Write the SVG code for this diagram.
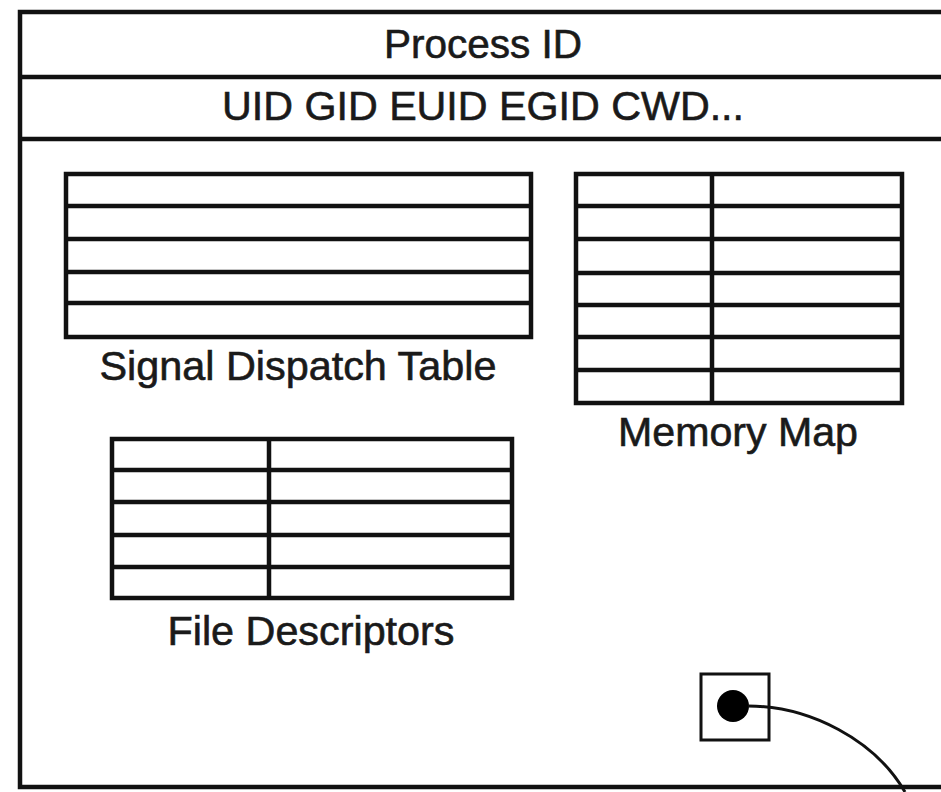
<svg xmlns="http://www.w3.org/2000/svg" width="941" height="792" viewBox="0 0 941 792">
<style>
.frame{fill:#fff;stroke:#111;stroke-width:4.5}
.grid{fill:none;stroke:#111;stroke-width:4.5}
.lbl{font-family:"Liberation Sans",Arial,sans-serif;font-size:40px;fill:#1a1a1a;stroke:#1a1a1a;stroke-width:0.6;text-anchor:middle}
.conn{fill:none;stroke:#111;stroke-width:3}
</style>
<rect width="941" height="792" fill="#fff"/>
<g id="process">
<rect class="frame" x="20" y="12" width="960" height="775"/>
<line class="grid" x1="20" y1="77" x2="941" y2="77"/>
<line class="grid" x1="20" y1="139" x2="941" y2="139"/>
<text class="lbl" x="483" y="58" textLength="198" lengthAdjust="spacingAndGlyphs">Process ID</text>
<text class="lbl" x="483" y="120" textLength="522" lengthAdjust="spacingAndGlyphs">UID GID EUID EGID CWD...</text>
</g>
<g id="signal-dispatch-table">
<rect class="grid" x="66" y="174" width="465" height="163"/>
<path class="grid" d="M66 206H531M66 239H531M66 272H531M66 303H531"/>
<text class="lbl" x="298" y="380" textLength="397" lengthAdjust="spacingAndGlyphs">Signal Dispatch Table</text>
</g>
<g id="memory-map">
<rect class="grid" x="576" y="174" width="326" height="229"/>
<path class="grid" d="M712 174V403M576 206H902M576 239H902M576 273H902M576 305H902M576 337H902M576 370H902"/>
<text class="lbl" x="738" y="446" textLength="240" lengthAdjust="spacingAndGlyphs">Memory Map</text>
</g>
<g id="file-descriptors">
<rect class="grid" x="112" y="439" width="400" height="159"/>
<path class="grid" d="M269 439V598M112 470H512M112 502H512M112 535H512M112 567H512"/>
<text class="lbl" x="311" y="645" textLength="287" lengthAdjust="spacingAndGlyphs">File Descriptors</text>
</g>
<g id="pointer">
<rect x="701" y="674" width="68" height="66" fill="#fff" stroke="#111" stroke-width="3"/>
<circle cx="733" cy="706" r="16" fill="#000"/>
</g>
<g id="connectors">
<path class="conn" d="M748 706C810 706 875 740 905 792"/>
</g>
</svg>
